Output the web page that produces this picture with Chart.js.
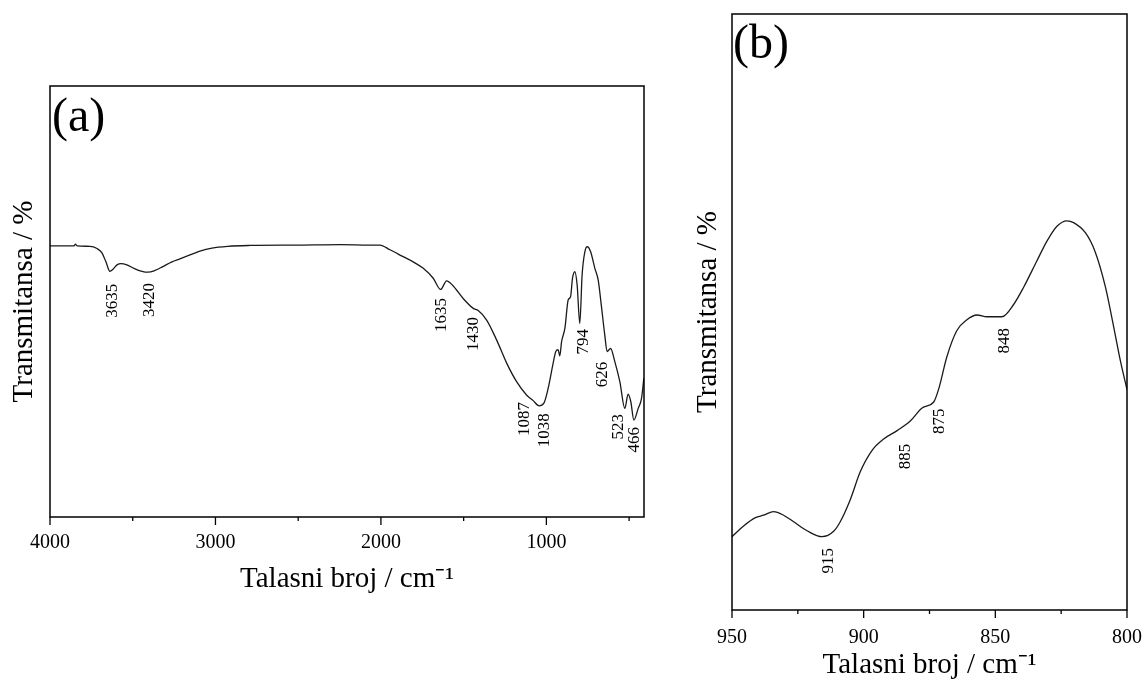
<!DOCTYPE html>
<html>
<head>
<meta charset="utf-8">
<script src="https://cdn.jsdelivr.net/npm/chart.js@4"></script>
<style>
  html, body { margin: 0; padding: 0; background: #fff; }
  canvas { position: absolute; top: 0; }
  #chartA { left: 0; }
  #chartB { left: 680px; }
</style>
</head>
<body>
<canvas id="chartA" width="660" height="610"></canvas>
<canvas id="chartB" width="463" height="680"></canvas>
<script>
// (a) full spectrum, wavenumber (cm-1) vs transmittance (arb. units)
const waveA = [4000, 3928, 3855, 3846, 3837, 3758, 3716, 3686, 3662, 3638, 3619, 3595, 3571, 3535, 3493,
  3444, 3408, 3366, 3318, 3263, 3215, 3154, 3094, 3021, 2925, 2792, 2490, 2248, 2066, 2006,
  1946, 1875, 1805, 1744, 1684, 1639, 1603, 1563, 1503, 1442, 1412, 1361, 1301, 1240, 1180,
  1120, 1080, 1044, 1015, 989, 959, 943, 929, 919, 908, 888, 868, 854, 842, 828,
  814, 798, 784, 767, 753, 733, 707, 687, 667, 647, 633, 612, 586, 556, 526,
  506, 490, 471, 445, 425, 411];
const transA = [62.9, 62.9, 62.9, 63.3, 62.9, 62.8, 62.3, 61.3, 59.2, 57.0, 57.5, 58.5, 58.8, 58.5, 57.7,
  57.0, 56.8, 57.2, 58.1, 59.2, 59.9, 60.8, 61.7, 62.4, 62.8, 63.0, 63.1, 63.2, 63.1, 63.1,
  62.0, 60.6, 59.2, 57.7, 55.4, 52.8, 54.8, 53.6, 50.7, 48.4, 47.9, 45.7, 41.1, 35.7, 31.4,
  28.3, 27.0, 25.8, 26.4, 29.9, 35.7, 38.4, 38.8, 37.4, 40.7, 43.8, 50.4, 51.1, 55.4, 56.9,
  53.8, 44.9, 56.2, 61.6, 62.7, 61.6, 57.7, 55.0, 48.8, 42.2, 38.4, 39.1, 36.0, 31.4, 25.2,
  28.5, 26.8, 22.5, 25.2, 27.5, 32.2];
const ticksA = [4000, 3000, 2000, 1000];
const minorA = [3500, 2500, 1500, 500];
const peaksA = ["3635", "3420", "1635", "1430", "1087", "1038", "794", "626", "523", "466"];
// where each peak label starts (its top)
const peakXA = [3622, 3396, 1631, 1442, 1130, 1009, 778, 662, 566, 465];
const peakYA = [54.1, 54.3, 50.8, 46.4, 26.7, 24.1, 43.6, 36.0, 23.9, 20.9];

// (b) zoom on 950-800 cm-1
const waveB = [950, 945.6, 941.1, 938, 934.2, 930.4, 926.6, 921.5, 915.8, 911.4, 908.9, 905.1, 901.3,
  896.8, 892.4, 887.3, 882.3, 877.8, 873.4, 871.5, 868.4, 864.6, 860.8, 857, 853.2, 847.5,
  843, 839.2, 834.2, 830.4, 826.6, 822.8, 820.3, 815.8, 812, 808.2, 805.1, 802.5, 800];
const transB = [12.3, 14.1, 15.5, 15.9, 16.5, 15.9, 14.8, 13.3, 12.3, 13.2, 14.8, 18.5, 23.2,
  26.8, 28.7, 30.1, 31.7, 33.9, 34.9, 37.1, 42.5, 46.9, 48.7, 49.5, 49.2, 49.2,
  51.3, 54.2, 58.6, 61.9, 64.4, 65.3, 65.0, 63.3, 60.0, 54.2, 47.6, 41.8, 37.0];
const ticksB = [950, 900, 850, 800];
const minorB = [925, 875, 825];
const peaksB = ["915", "885", "875", "848"];
const peakXB = [913.3, 884.2, 871.2, 846.6];
const peakYB = [10.4, 27.9, 33.8, 47.3];

const SERIF = '"Liberation Serif", "Times New Roman", serif';
Chart.defaults.font.family = SERIF;
Chart.defaults.color = "#000";

// box around the plot, outward ticks, panel tag and peak labels
function framePlugin(cfg) {
  return {
    id: "frame",
    afterDraw(chart) {
      const { ctx, chartArea: a, scales: { x, y } } = chart;
      ctx.save();
      ctx.strokeStyle = "#000";
      ctx.lineWidth = 1.5;
      ctx.strokeRect(a.left, a.top, a.right - a.left, a.bottom - a.top);

      ctx.lineWidth = 1.3;
      const tick = (v, len) => {
        const px = x.getPixelForValue(v);
        ctx.beginPath();
        ctx.moveTo(px, a.bottom);
        ctx.lineTo(px, a.bottom + len);
        ctx.stroke();
      };
      cfg.major.forEach(v => tick(v, 8));
      cfg.minor.forEach(v => tick(v, 4));

      ctx.fillStyle = "#000";
      ctx.font = "48px " + SERIF;
      ctx.textBaseline = "alphabetic";
      ctx.fillText(cfg.tag, a.left + cfg.tagDx, a.top + cfg.tagDy);

      ctx.font = "17px " + SERIF;
      cfg.peaks.forEach((p, i) => {
        ctx.save();
        ctx.translate(x.getPixelForValue(cfg.peakX[i]), y.getPixelForValue(cfg.peakY[i]));
        ctx.rotate(-Math.PI / 2);
        ctx.textAlign = "right";
        ctx.textBaseline = "middle";
        ctx.fillText(p, 0, 0);
        ctx.restore();
      });
      ctx.restore();
    }
  };
}

function makeChart(id, wave, trans, o) {
  const pts = wave.map((w, i) => ({ x: w, y: trans[i] }));
  return new Chart(document.getElementById(id), {
    type: "line",
    data: {
      datasets: [{
        data: pts,
        borderColor: "#1a1a1a",
        borderWidth: 1.3,
        pointRadius: 0,
        cubicInterpolationMode: "monotone",
        fill: false
      }]
    },
    options: {
      responsive: false,
      animation: false,
      events: [],
      layout: { padding: { left: 0, top: o.top, right: o.right, bottom: 0 } },
      plugins: { legend: { display: false }, tooltip: { enabled: false } },
      scales: {
        x: {
          type: "linear",
          reverse: true,
          min: o.xmin,
          max: o.xmax,
          afterBuildTicks: s => { s.ticks = o.ticks.map(v => ({ value: v })); },
          afterFit: s => {
            s.height = o.xh;
            // edge labels may hang outside the plot box, as in the original
            s.paddingLeft = 0;
            s.paddingRight = 0;
          },
          grid: { display: false, drawTicks: false },
          border: { display: false },
          ticks: {
            autoSkip: false,
            maxRotation: 0,
            padding: o.tickPad,
            font: { size: 20 },
            callback: v => String(v)
          },
          title: {
            display: true,
            text: "Talasni broj / cm⁻¹",
            font: { size: 29, lineHeight: 1 },
            padding: { top: 0, bottom: o.xTitlePad }
          }
        },
        y: {
          min: 0,
          max: 100,
          afterFit: s => { s.width = o.yw; },
          grid: { display: false, drawTicks: false },
          border: { display: false },
          ticks: { display: false },
          title: {
            display: true,
            text: "Transmitansa / %",
            font: { size: 29, lineHeight: 1 },
            padding: { top: o.yTitlePad, bottom: 0 }
          }
        }
      }
    },
    plugins: [framePlugin(o)]
  });
}

makeChart("chartA", waveA, transA, {
  top: 86, right: 16, xh: 93, yw: 50,
  xmin: 410, xmax: 4000, ticks: ticksA, major: ticksA, minor: minorA,
  tickPad: 14, xTitlePad: 16, yTitlePad: 10,
  tag: "(a)", tagDx: 2, tagDy: 45,
  peaks: peaksA, peakX: peakXA, peakY: peakYA
});

makeChart("chartB", waveB, transB, {
  top: 14, right: 16, xh: 70, yw: 52,
  xmin: 800, xmax: 950, ticks: ticksB, major: ticksB, minor: minorB,
  tickPad: 16, xTitlePad: 0, yTitlePad: 14,
  tag: "(b)", tagDx: 1, tagDy: 44,
  peaks: peaksB, peakX: peakXB, peakY: peakYB
});
</script>
</body>
</html>
